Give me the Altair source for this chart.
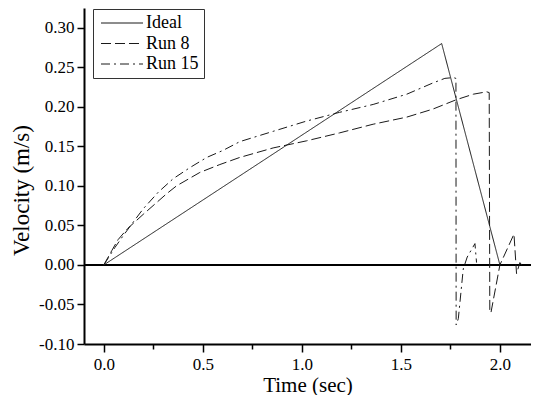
import altair as alt
import pandas as pd

# ---- data ----
series_names = ["Ideal", "Run 8", "Run 15"]

ideal_t = [0.0, 1.706, 2.0]
ideal_v = [0.0, 0.280, 0.0]

run8_t = [0.0, 0.04, 0.072, 0.12, 0.199, 0.317, 0.367, 0.485, 0.586, 0.687, 0.855, 1.024,
          1.19, 1.36, 1.53, 1.66, 1.78, 1.866, 1.933, 1.946, 1.949, 1.955, 2.0, 2.071,
          2.084, 2.101, 2.11]
run8_v = [0.0, 0.018, 0.032, 0.046, 0.064, 0.090, 0.100, 0.117, 0.127, 0.136, 0.148, 0.157,
          0.167, 0.178, 0.187, 0.197, 0.209, 0.216, 0.219, 0.218, -0.060, -0.060, 0.0, 0.039,
          -0.011, 0.003, 0.0]

run15_t = [0.0, 0.056, 0.098, 0.148, 0.199, 0.275, 0.35, 0.434, 0.52, 0.603, 0.687, 0.855,
           1.024, 1.19, 1.36, 1.53, 1.66, 1.722, 1.765, 1.778, 1.779, 1.79, 1.815, 1.835,
           1.874, 1.882]
run15_v = [0.0, 0.022, 0.037, 0.054, 0.071, 0.092, 0.109, 0.123, 0.136, 0.145, 0.156, 0.169,
           0.182, 0.193, 0.203, 0.216, 0.230, 0.236, 0.237, 0.236, -0.076, -0.068, -0.005,
           0.010, 0.027, 0.003]

x_ticks = [0.0, 0.25, 0.5, 0.75, 1.0, 1.25, 1.5, 1.75, 2.0]
y_ticks = [-0.1, -0.075, -0.05, -0.025, 0.0, 0.025, 0.05, 0.075, 0.1, 0.125, 0.15,
           0.175, 0.2, 0.225, 0.25, 0.275, 0.3, 0.325]

rows = []
for name, ts, vs in [("Ideal", ideal_t, ideal_v), ("Run 8", run8_t, run8_v), ("Run 15", run15_t, run15_v)]:
    for i, (t, v) in enumerate(zip(ts, vs)):
        rows.append({"series": name, "i": i, "t": t, "v": v})
df = pd.DataFrame(rows)

FONT = "'Liberation Serif', 'Times New Roman', Times, serif"
ink = "#1a1a1a"

y_major = "abs(datum.value*20 - round(datum.value*20)) < 0.001"
x_major = "abs(datum.value*2 - round(datum.value*2)) < 0.001"

lines = alt.Chart(df).mark_line(strokeWidth=1, color=ink).encode(
    x=alt.X("t:Q", scale=alt.Scale(domain=[-0.1, 2.157], nice=False, zero=False),
            axis=alt.Axis(title="Time (sec)", values=x_ticks, grid=False,
                          labelExpr=f"{x_major} ? format(datum.value, '.1f') : ''",
                          tickSize={"condition": {"test": x_major, "value": 8}, "value": 5},
                          titleFontSize=21, labelPadding=4, titlePadding=2)),
    y=alt.Y("v:Q", scale=alt.Scale(domain=[-0.1, 0.325], nice=False, zero=False),
            axis=alt.Axis(title="Velocity (m/s)", values=y_ticks, grid=False,
                          labelExpr=f"{y_major} ? ((datum.value < -0.0001 ? '-' : '') + format(abs(datum.value), '.2f')) : ''",
                          tickSize={"condition": {"test": y_major, "value": 7}, "value": 4},
                          titleFontSize=23, labelPadding=3, titlePadding=5, titleY=182)),
    strokeDash=alt.StrokeDash("series:N",
                              scale=alt.Scale(domain=series_names,
                                              range=[[1, 0], [10, 4], [9, 4, 2, 4]]),
                              legend=alt.Legend(title=None, orient="none", legendX=9, legendY=1,
                                                symbolType="M-1,0H6", symbolSize=144,
                                                symbolStrokeColor=ink, symbolStrokeWidth=1,
                                                labelOffset=30, rowPadding=2.5, padding=5,
                                                strokeColor="#333", labelFont=FONT,
                                                labelFontSize=18, labelColor="black")),
    order=alt.Order("i:Q"),
)

zero = alt.Chart(df).mark_rule(color="black", strokeWidth=1).encode(y=alt.datum(0))

chart = alt.layer(zero, lines).properties(
    width=447, height=336,
    autosize=alt.AutoSizeParams(type="none"),
    padding={"left": 76, "top": 0, "right": 0, "bottom": 51},
).configure_view(stroke=None).configure_axis(
    domainColor="black", domainWidth=2, tickColor="black", tickWidth=1.5,
    labelFont=FONT, labelFontSize=17, labelColor="black",
    titleFont=FONT, titleFontWeight="normal", titleColor="black",
)

chart.save("out.html", embed_options={"renderer": "svg", "actions": False})
